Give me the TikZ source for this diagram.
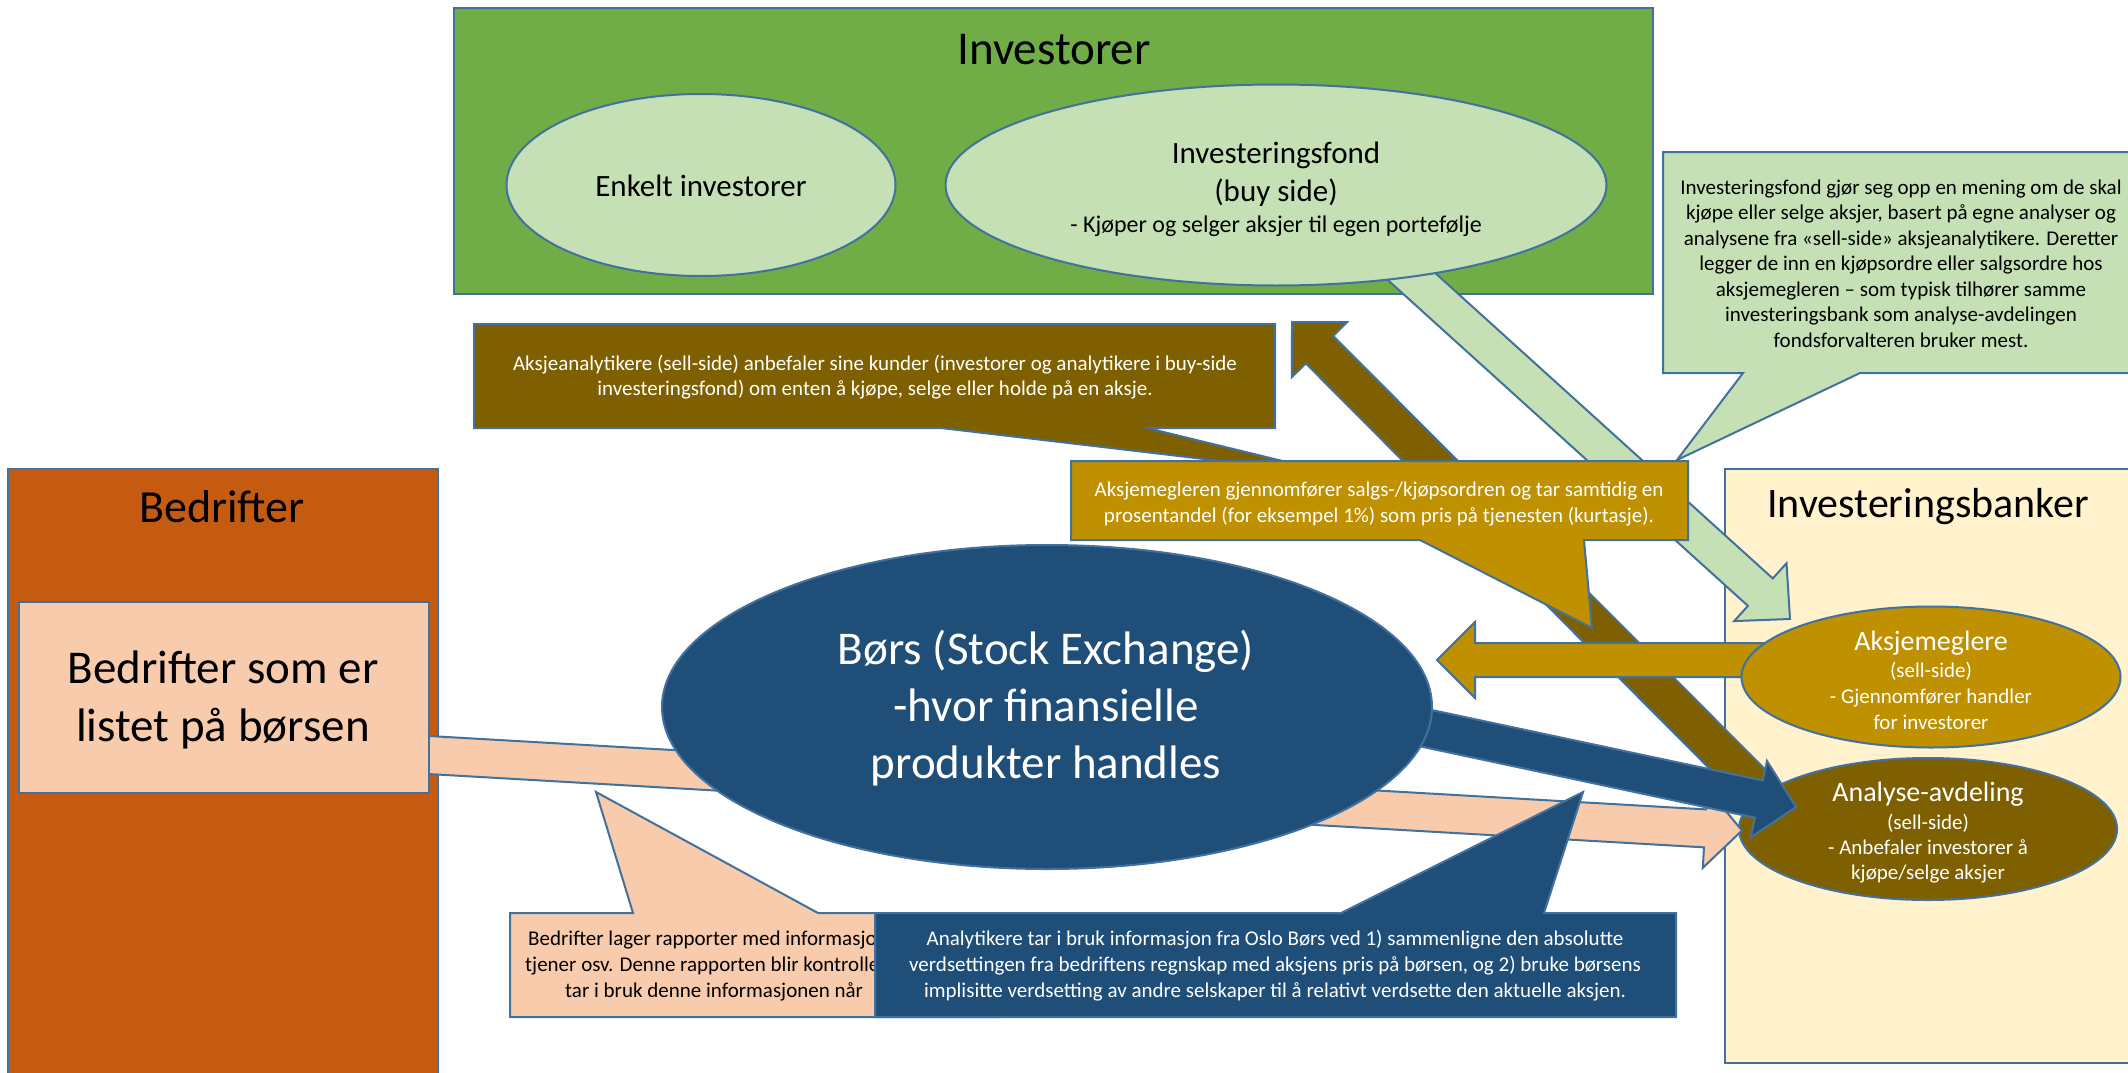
\documentclass[tikz,border=0pt]{standalone}
\usepackage{fontspec}
\setmainfont{Carlito}
\usetikzlibrary{calc,shapes.geometric}
\definecolor{cGreen}{HTML}{70AD47}
\definecolor{cLightGreen}{HTML}{C5E0B4}
\definecolor{cOrange}{HTML}{C55A11}
\definecolor{cPeach}{HTML}{F8CBAD}
\definecolor{cCream}{HTML}{FFF2CC}
\definecolor{cGold}{HTML}{BF9000}
\definecolor{cBrown}{HTML}{7F6000}
\definecolor{cBlue}{HTML}{1F4E79}
\definecolor{cEdge}{HTML}{41719C}
\newcommand{\myfs}[1]{\fontsize{#1pt}{#1pt}\selectfont}
\tikzset{
  shapeedge/.style={draw=cEdge, line width=2pt, line join=miter},
  panel/.style={shapeedge, rectangle, inner sep=0pt, anchor=north west},
  oval/.style={shapeedge, ellipse, inner sep=0pt},
  txt/.style={inner sep=0pt, anchor=base},
  calltxt/.style={txt, font=\myfs{21}},
}
% block arrow: style, start, tip, half shaft width, half head width, head length
\newcommand{\blockarrow}[6]{%
  \coordinate (#2h) at ($(#3)!#6!(#2)$);
  \filldraw[#1] ($(#2)!#4!90:(#3)$) -- ($(#2h)!#4!-90:(#2)$) -- ($(#2h)!#5!-90:(#2)$)
    -- (#3) -- ($(#2h)!#5!90:(#2)$) -- ($(#2h)!#4!90:(#2)$) -- ($(#2)!#4!-90:(#3)$) -- cycle;
}
% text lines: style, name, x, first baseline, step, lines
\newcommand{\textlines}[6]{%
  \foreach \tl [count=\ti from 0] in {#6} {
    \node[#1] (#2\ti) at (#3, {#4+\ti*#5}) {\tl};
  }
}
\begin{document}
\begin{tikzpicture}[x=1pt,y=-1pt]
\useasboundingbox (0,0) rectangle (2128,1073);
\clip (0,0) rectangle (2128,1073);
\fill[white] (0,0) rectangle (2128,1073);

% panels
\node[panel, fill=cGreen, minimum width=1199pt, minimum height=286pt] (inv) at (453,7) {};
\node[txt, font=\myfs{47}] (invT) at (1054,64) {Investorer};
\node[panel, fill=cOrange, minimum width=430pt, minimum height=620pt] (bed) at (7,468) {};
\node[txt, font=\myfs{46}] (bedT) at (222,522) {Bedrifter};
\node[panel, fill=cCream, minimum width=420pt, minimum height=594pt] (bank) at (1724,468) {};
\node[txt, font=\myfs{42}] (bankT) at (1928,517) {Investeringsbanker};

% green arrow: Investeringsfond -> Aksjemeglere
\coordinate (gS) at (1380,248);
\coordinate (gT) at (1790,619);
\blockarrow{shapeedge, fill=cLightGreen}{gS}{gT}{18.5pt}{39pt}{40pt}

% investor ellipses
\node[oval, fill=cLightGreen, minimum width=389pt, minimum height=182pt] (enkelt) at (701,185) {};
\node[txt, font=\myfs{31}] (enkeltT) at (701,196) {Enkelt investorer};
\node[oval, fill=cLightGreen, minimum width=661pt, minimum height=201pt] (fond) at (1276,185) {};
\node[txt, font=\myfs{31}] (fondT1) at (1276,163) {Investeringsfond};
\node[txt, font=\myfs{31}] (fondT2) at (1276,201) {(buy side)};
\node[txt, font=\myfs{24}] (fondT3) at (1276,232) {- Kjøper og selger aksjer til egen portefølje};

% green callout
\coordinate (gcTip) at (1677,460);
\filldraw[shapeedge, fill=cLightGreen] (1663,152) -- (2145,152) -- (2145,373) -- (1860,373)
  -- (gcTip) -- (1743,373) -- (1663,373) -- cycle;
\textlines{calltxt}{gc}{1901}{194}{25.5}{{Investeringsfond gjør seg opp en mening om de skal},
  {kjøpe eller selge aksjer, basert på egne analyser og},
  {analysene fra «sell-side» aksjeanalytikere. Deretter},
  {legger de inn en kjøpsordre eller salgsordre hos},
  {aksjemegleren – som typisk tilhører samme},
  {investeringsbank som analyse-avdelingen},
  {fondsforvalteren bruker mest.}}

% brown callout
\coordinate (bcTip) at (1340,475);
\filldraw[shapeedge, fill=cBrown] (474,324) -- (1275,324) -- (1275,428) -- (1147,428)
  -- (bcTip) -- (941,428) -- (474,428) -- cycle;
\textlines{calltxt, text=white}{bc}{875}{370}{25}{{Aksjeanalytikere (sell-side) anbefaler sine kunder (investorer og analytikere i buy-side},
  {investeringsfond) om enten å kjøpe, selge eller holde på en aksje.}}

% brown arrow: Analyse-avdeling -> investorer
\coordinate (brS) at (1800,832);
\coordinate (brT) at (1292,322);
\blockarrow{shapeedge, fill=cBrown}{brS}{brT}{19.4pt}{39pt}{39pt}

% Analyse-avdeling
\node[oval, fill=cBrown, minimum width=378pt, minimum height=142pt] (anal) at (1928,829) {};
\node[txt, font=\myfs{28}, text=white] (analT0) at (1928,801) {Analyse-avdeling};
\textlines{calltxt, text=white}{analT}{1928}{829}{25}{{(sell-side)},{- Anbefaler investorer å},{kjøpe/selge aksjer}}

% peach arrow: Bedrifter -> Analyse-avdeling
\coordinate (pS) at (420,754.5);
\coordinate (pT) at (1742,830.5);
\blockarrow{shapeedge, fill=cPeach}{pS}{pT}{19pt}{39.5pt}{37pt}

% blue arrow: Bors -> Analyse-avdeling (under the Bors ellipse)
\coordinate (blS) at (1350,712);
\coordinate (blT) at (1796,807);
\blockarrow{shapeedge, fill=cBlue}{blS}{blT}{19pt}{39pt}{38pt}

% listed companies box
\node[panel, fill=cPeach, minimum width=410pt, minimum height=191pt] (listed) at (18,601) {};
\node[txt, font=\myfs{47}] (listedT1) at (223,683) {Bedrifter som er};
\node[txt, font=\myfs{47}] (listedT2) at (223,741) {listet på børsen};

% stock exchange
\node[oval, fill=cBlue, minimum width=770pt, minimum height=324pt] (bors) at (1047,707) {};
\textlines{txt, font=\myfs{47}, text=white}{borsT}{1046}{664}{57}{{Børs (Stock Exchange)},{-hvor finansielle},{produkter handles}}

% gold callout
\coordinate (gocTip) at (1592,628);
\filldraw[shapeedge, fill=cGold] (1071,461) -- (1688,461) -- (1688,540) -- (1584,540)
  -- (gocTip) -- (1420,540) -- (1071,540) -- cycle;
\textlines{calltxt, text=white}{goc}{1379}{496}{26}{{Aksjemegleren gjennomfører salgs-/kjøpsordren og tar samtidig en},
  {prosentandel (for eksempel 1\%) som pris på tjenesten (kurtasje).}}

% gold arrow: Aksjemeglere -> Bors
\coordinate (goS) at (1800,660);
\coordinate (goT) at (1437,660);
\blockarrow{shapeedge, fill=cGold}{goS}{goT}{17pt}{38pt}{38pt}

% Aksjemeglere
\node[oval, fill=cGold, minimum width=379pt, minimum height=141pt] (megl) at (1931,677) {};
\node[txt, font=\myfs{28}, text=white] (meglT0) at (1931,650) {Aksjemeglere};
\textlines{calltxt, text=white}{meglT}{1931}{677}{26}{{(sell-side)},{- Gjennomfører handler},{for investorer}}

% peach callout
\coordinate (pcTip) at (596,792);
\filldraw[shapeedge, fill=cPeach] (510,913) -- (633,913) -- (pcTip) -- (818,913) -- (1000,913)
  -- (1000,1017) -- (510,1017) -- cycle;
\node[calltxt, anchor=base west] (pc1) at (528,945) {Bedrifter lager rapporter med informasjon};
\node[calltxt, anchor=base west] (pc2) at (525,971) {tjener osv. Denne rapporten blir kontrollert};
\node[calltxt, anchor=base west] (pc3) at (565,997) {tar i bruk denne informasjonen når};

% blue callout
\coordinate (blcTip) at (1583,792);
\filldraw[shapeedge, fill=cBlue] (875,913) -- (1341,913) -- (blcTip) -- (1544,913) -- (1676,913)
  -- (1676,1017) -- (875,1017) -- cycle;
\textlines{calltxt, text=white}{blc}{1275}{945}{26}{{Analytikere tar i bruk informasjon fra Oslo Børs ved 1) sammenligne den absolutte},
  {verdsettingen fra bedriftens regnskap med aksjens pris på børsen, og 2) bruke børsens},
  {implisitte verdsetting av andre selskaper til å relativt verdsette den aktuelle aksjen.}}
\end{tikzpicture}
\end{document}
